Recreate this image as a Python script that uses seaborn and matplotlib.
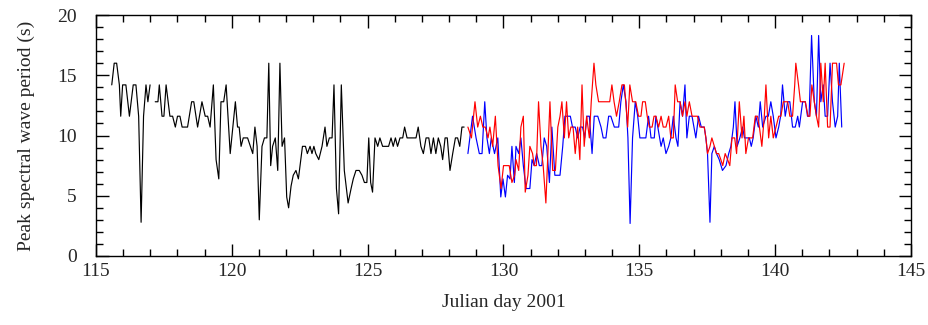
import numpy as np
import pandas as pd
import matplotlib
matplotlib.use("Agg")
import matplotlib.pyplot as plt
import seaborn as sns
from matplotlib.ticker import MultipleLocator

# --- dados (dia juliano, periodo de pico em s) ---
black_day = [115.58, 115.67, 115.76, 115.86, 115.91, 115.98, 116.10, 116.23, 116.37, 116.47,
             116.57, 116.66, 116.75, 116.84, 116.91, 116.99, 117.08, 117.18, 117.28, 117.33,
             117.43, 117.50, 117.58, 117.72, 117.82, 117.92, 118.00, 118.09, 118.17, 118.37,
             118.52, 118.60, 118.74, 118.90, 119.02, 119.11, 119.20, 119.32, 119.42, 119.52,
             119.60, 119.70, 119.79, 119.94, 120.13, 120.21, 120.27, 120.34, 120.42, 120.58,
             120.77, 120.85, 120.93, 121.01, 121.11, 121.20, 121.29, 121.36, 121.43, 121.50,
             121.60, 121.69, 121.77, 121.85, 121.94, 122.02, 122.09, 122.18, 122.26, 122.36,
             122.45, 122.60, 122.71, 122.78, 122.88, 122.95, 123.02, 123.09, 123.20, 123.32,
             123.43, 123.50, 123.59, 123.69, 123.76, 123.85, 123.93, 124.03, 124.14, 124.28,
             124.39, 124.47, 124.57, 124.69, 124.79, 124.88, 124.97, 125.04, 125.11, 125.18,
             125.27, 125.37, 125.45, 125.55, 125.77, 125.86, 125.94, 126.02, 126.10, 126.19,
             126.29, 126.36, 126.45, 126.54, 126.78, 126.86, 126.96, 127.05, 127.15, 127.25,
             127.33, 127.42, 127.51, 127.60, 127.69, 127.76, 127.85, 127.93, 128.03, 128.13,
             128.23, 128.31, 128.39, 128.47, 128.55]
black_tp = [14.2, 16.0, 16.0, 14.2, 11.6, 14.2, 14.2, 11.6, 14.2, 14.2,
            11.6, 2.8, 11.6, 14.2, 12.8, 14.2, np.nan, 12.8, 12.8, 14.2,
            11.6, 11.6, 14.2, 11.6, 11.6, 10.7, 11.6, 11.6, 10.7, 10.7,
            12.8, 12.8, 10.7, 12.8, 11.6, 11.6, 10.7, 14.2, 8.0, 6.4,
            12.8, 12.8, 14.2, 8.5, 12.8, 10.7, 10.7, 9.1, 9.8, 9.8,
            8.5, 10.7, 9.1, 3.0, 9.1, 9.8, 9.8, 16.0, 7.5, 9.1,
            9.8, 7.1, 16.0, 9.1, 9.8, 4.9, 4.0, 5.8, 6.7, 7.1,
            6.4, 9.1, 9.1, 8.5, 9.1, 8.5, 9.1, 8.5, 8.0, 9.1,
            10.7, 9.1, 9.8, 9.8, 14.2, 5.6, 3.5, 14.2, 7.1, 4.4,
            5.6, 6.4, 7.1, 7.1, 6.7, 6.1, 6.1, 9.8, 6.1, 5.3,
            9.8, 9.1, 9.8, 9.1, 9.1, 9.8, 9.1, 9.8, 9.1, 9.8,
            9.8, 10.7, 9.8, 9.8, 9.8, 10.7, 9.1, 8.5, 9.8, 9.8,
            8.5, 9.8, 8.5, 9.8, 9.1, 8.0, 9.8, 9.8, 7.1, 8.5,
            9.8, 9.8, 9.1, 10.7, 10.7]

blue_day = [128.69, 128.86, 128.99, 129.11, 129.21, 129.31, 129.39, 129.48, 129.55, 129.67,
            129.79, 129.90, 129.98, 130.07, 130.15, 130.24, 130.31, 130.40, 130.46, 130.56,
            130.64, 130.73, 130.83, 130.90, 130.97, 131.05, 131.13, 131.22, 131.32, 131.41,
            131.50, 131.59, 131.69, 131.78, 131.89, 132.00, 132.08, 132.18, 132.26, 132.36,
            132.46, 132.54, 132.64, 132.73, 132.82, 132.91, 132.99, 133.07, 133.16, 133.26,
            133.34, 133.47, 133.59, 133.67, 133.77, 133.87, 133.95, 134.08, 134.24, 134.32,
            134.41, 134.51, 134.58, 134.66, 134.75, 134.85, 134.94, 135.02, 135.12, 135.24,
            135.34, 135.43, 135.55, 135.61, 135.68, 135.80, 135.88, 135.98, 136.08, 136.16,
            136.25, 136.35, 136.42, 136.50, 136.59, 136.68, 136.75, 136.84, 136.94, 137.08,
            137.18, 137.28, 137.39, 137.45, 137.51, 137.60, 137.67, 137.76, 137.84, 137.94,
            138.06, 138.19, 138.29, 138.37, 138.46, 138.52, 138.60, 138.70, 138.80, 138.87,
            138.96, 139.05, 139.12, 139.19, 139.29, 139.38, 139.45, 139.54, 139.66, 139.75,
            139.84, 139.93, 140.03, 140.13, 140.20, 140.27, 140.37, 140.46, 140.54, 140.64,
            140.74, 140.83, 140.89, 141.01, 141.11, 141.19, 141.25, 141.34, 141.44, 141.52,
            141.60, 141.68, 141.77, 141.84, 141.93, 142.02, 142.11, 142.21, 142.30, 142.36,
            142.45]
blue_tp = [8.5, 11.6, 9.8, 8.5, 8.5, 12.8, 9.8, 8.5, 9.8, 8.5,
           9.8, 4.9, 6.4, 4.9, 6.7, 6.4, 9.1, 6.1, 9.1, 8.5,
           9.8, 7.5, 5.6, 5.6, 5.6, 8.0, 7.5, 8.5, 7.5, 7.5,
           9.8, 9.1, 6.1, 10.7, 6.7, 6.7, 6.7, 9.1, 11.6, 11.6,
           11.6, 10.7, 10.7, 9.8, 10.7, 10.7, 9.8, 11.6, 11.6, 8.5,
           11.6, 11.6, 10.7, 9.8, 9.8, 11.6, 11.6, 10.7, 10.7, 12.8,
           14.2, 12.8, 9.8, 2.7, 9.8, 12.8, 11.6, 9.8, 9.8, 9.8,
           11.6, 9.8, 9.8, 11.6, 10.7, 9.1, 9.8, 8.5, 9.1, 9.8,
           11.6, 9.8, 9.1, 12.8, 11.6, 14.2, 9.8, 11.6, 11.6, 9.8,
           11.6, 10.7, 10.7, 9.8, 8.5, 2.8, 8.5, 9.1, 8.5, 8.0,
           7.1, 7.5, 8.5, 9.1, 10.7, 12.8, 9.1, 9.8, 10.7, 9.8,
           9.8, 9.8, 9.1, 9.8, 11.6, 10.7, 12.8, 10.7, 11.6, 11.6,
           12.8, 11.6, 9.8, 10.7, 11.6, 14.2, 11.6, 12.8, 12.8, 10.7,
           10.7, 11.6, 10.7, 12.8, 12.8, 11.6, 11.6, 18.3, 12.8, 11.6,
           18.3, 12.8, 14.2, 11.6, 11.6, 16.0, 12.8, 10.7, 11.6, 16.0,
           10.7]

red_day = [128.69, 128.82, 128.95, 129.05, 129.15, 129.24, 129.33, 129.43, 129.50, 129.60,
           129.70, 129.80, 129.91, 130.00, 130.09, 130.21, 130.31, 130.41, 130.46, 130.56,
           130.64, 130.73, 130.80, 130.90, 130.97, 131.07, 131.13, 131.21, 131.29, 131.38,
           131.46, 131.56, 131.71, 131.81, 131.91, 132.00, 132.08, 132.15, 132.24, 132.32,
           132.40, 132.48, 132.56, 132.64, 132.73, 132.81, 132.89, 132.97, 133.06, 133.16,
           133.23, 133.33, 133.40, 133.50, 133.83, 133.91, 133.99, 134.07, 134.16, 134.26,
           134.36, 134.45, 134.57, 134.65, 134.75, 134.87, 134.97, 135.06, 135.12, 135.22,
           135.29, 135.37, 135.47, 135.54, 135.61, 135.71, 135.80, 135.88, 135.98, 136.08,
           136.16, 136.25, 136.32, 136.41, 136.50, 136.59, 136.68, 136.75, 136.84, 136.94,
           137.14, 137.23, 137.39, 137.45, 137.51, 137.60, 137.67, 137.76, 137.84, 137.92,
           138.00, 138.07, 138.16, 138.25, 138.33, 138.41, 138.51, 138.58, 138.68, 138.78,
           138.85, 138.92, 139.02, 139.17, 139.27, 139.35, 139.42, 139.51, 139.60, 139.66,
           139.76, 139.84, 139.93, 140.03, 140.13, 140.21, 140.30, 140.38, 140.46, 140.54,
           140.64, 140.72, 140.76, 140.86, 140.93, 141.11, 141.21, 141.28, 141.35, 141.44,
           141.52, 141.60, 141.68, 141.77, 141.84, 141.93, 142.02, 142.11, 142.26, 142.33,
           142.42, 142.54]
red_tp = [10.7, 9.8, 12.8, 10.7, 11.6, 10.7, 10.7, 9.8, 10.7, 9.1,
          11.6, 7.5, 5.6, 7.5, 7.5, 7.5, 6.1, 6.7, 8.0, 7.1,
          10.7, 11.6, 5.3, 6.7, 9.1, 8.5, 7.5, 7.5, 12.8, 9.1,
          7.5, 4.4, 12.8, 7.1, 7.1, 10.7, 11.6, 12.8, 9.8, 12.8,
          9.8, 10.7, 10.7, 8.5, 10.7, 8.0, 14.2, 9.1, 11.6, 9.8,
          12.8, 16.0, 14.2, 12.8, 12.8, 12.8, 14.2, 12.8, 11.6, 12.8,
          14.2, 14.2, 10.7, 14.2, 12.8, 12.8, 11.6, 11.6, 12.8, 12.8,
          11.6, 10.7, 10.7, 11.6, 11.6, 10.7, 11.6, 10.7, 10.7, 11.6,
          9.8, 9.8, 14.2, 12.8, 12.8, 11.6, 12.8, 11.6, 12.8, 11.6,
          11.6, 10.7, 10.7, 9.8, 8.5, 9.1, 9.8, 9.1, 8.5, 8.5,
          8.0, 7.5, 8.5, 8.0, 7.5, 9.8, 9.8, 8.5, 12.8, 9.8,
          11.6, 8.5, 9.8, 9.8, 11.6, 11.6, 10.7, 9.1, 11.6, 14.2,
          9.8, 11.6, 9.8, 10.7, 11.6, 11.6, 12.8, 12.8, 12.8, 11.6,
          11.6, 14.2, 16.0, 14.2, 12.8, 12.8, 11.6, 11.6, 14.2, 12.8,
          11.6, 10.7, 16.0, 12.8, 16.0, 10.7, 10.7, 16.0, 16.0, 14.2,
          14.2, 16.0]

x_ticks = [115, 120, 125, 130, 135, 140, 145]
y_ticks = [0, 5, 10, 15, 20]


def montar_tabela(dias, valores):
    df = pd.DataFrame({"day": dias, "tp": valores})
    # NaN marca uma falha na serie: cada trecho vira uma unidade
    df["seg"] = df["tp"].isna().cumsum()
    return df.dropna()


sns.set_style("ticks")
plt.rcParams["font.family"] = ["Liberation Serif", "DejaVu Serif"]
plt.rcParams["font.size"] = 14

fig = plt.figure(figsize=(9.29, 3.25), dpi=100)
ax = fig.add_axes([96 / 929, 1 - 256 / 325, 815 / 929, 241 / 325])

series = [(black_day, black_tp, "black"),
          (blue_day, blue_tp, "#0000ff"),
          (red_day, red_tp, "#ff0000")]
for dias, valores, cor in series:
    sns.lineplot(data=montar_tabela(dias, valores), x="day", y="tp", units="seg",
                 estimator=None, sort=False, color=cor, lw=0.85, ax=ax)

ax.set_xlim(115, 145)
ax.set_ylim(0, 20)
ax.set_xticks(x_ticks)
ax.set_yticks(y_ticks)
ax.xaxis.set_minor_locator(MultipleLocator(1))
ax.yaxis.set_minor_locator(MultipleLocator(1))
ax.tick_params(which="both", direction="in", top=True, right=True, width=1, color="black")
ax.tick_params(which="major", length=9)
ax.tick_params(which="minor", length=5)
ax.tick_params(axis="y", which="major", pad=14, labelsize=14)
ax.tick_params(axis="x", which="major", pad=5, labelsize=14)
for s in ax.spines.values():
    s.set_color("black")
    s.set_linewidth(1.0)

ax.set_xlabel("Julian day 2001", fontsize=14, labelpad=10)
ax.set_ylabel("Peak spectral wave period (s)", fontsize=14, labelpad=16)

fig.savefig("out.png", dpi=100)
